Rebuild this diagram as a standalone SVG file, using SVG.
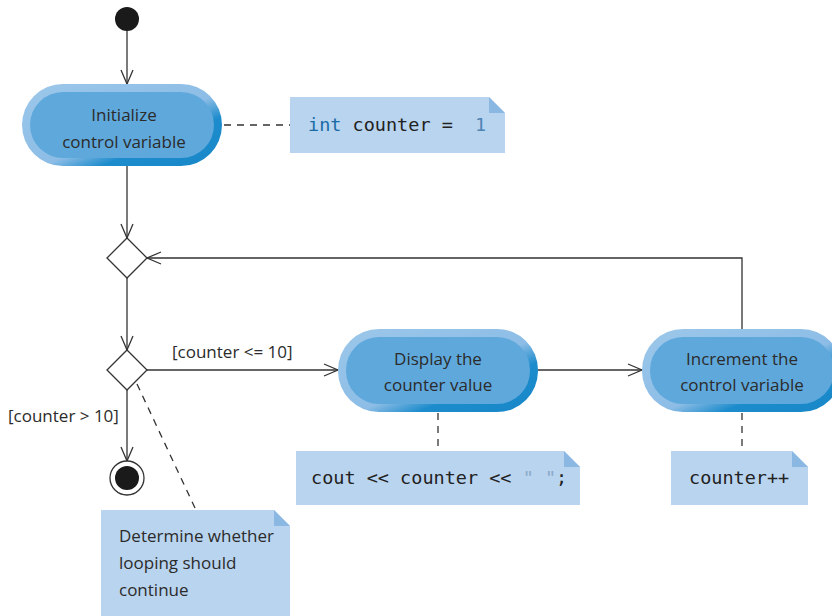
<svg xmlns="http://www.w3.org/2000/svg" width="832" height="616" viewBox="0 0 832 616">
<defs>
<linearGradient id="ring" x1="0" y1="0" x2="1" y2="1">
<stop offset="0" stop-color="#9cc7ea"/>
<stop offset="0.55" stop-color="#8dbde6"/>
<stop offset="0.7" stop-color="#1d8ccc"/>
<stop offset="1" stop-color="#1787c9"/>
</linearGradient>
<marker id="open" viewBox="0 0 16 14" refX="15" refY="7" markerWidth="16" markerHeight="14" markerUnits="userSpaceOnUse" orient="auto">
<path d="M1,1 L15,7 L1,13" fill="none" stroke="#333" stroke-width="1.3"/>
</marker>
</defs>
<style>
.ring{fill:url(#ring)}
.inner{fill:#5fa8dc}
.lbl{font-family:"Open Sans","Noto Sans",sans-serif;font-size:17px;fill:#2b2b2b;text-anchor:middle}
.g{font-family:"Open Sans","Noto Sans",sans-serif;font-size:17px;fill:#2b2b2b}
.code{font-family:"DejaVu Sans Mono","Liberation Mono",monospace;font-size:18.5px;fill:#222}
.note{fill:#b9d4ee}
.fold{fill:#8ab8e2}
.edge{fill:none;stroke:#333;stroke-width:1.3}
.dash{fill:none;stroke:#333;stroke-width:1.3;stroke-dasharray:7,6}
</style>
<rect width="832" height="616" fill="#fff"/>
<g id="connectors">
<line class="edge" x1="127" y1="31" x2="127" y2="84" marker-end="url(#open)"/>
<line class="edge" x1="127" y1="166" x2="127" y2="238" marker-end="url(#open)"/>
<line class="edge" x1="127" y1="278" x2="127" y2="350" marker-end="url(#open)"/>
<line class="edge" x1="127" y1="390" x2="127" y2="461" marker-end="url(#open)"/>
<line class="edge" x1="147" y1="370" x2="338" y2="370" marker-end="url(#open)"/>
<line class="edge" x1="538" y1="370" x2="642" y2="370" marker-end="url(#open)"/>
<polyline class="edge" points="742,330 742,258 147,258" marker-end="url(#open)"/>
<line class="dash" x1="224" y1="125" x2="290" y2="125"/>
<line class="dash" x1="438" y1="413" x2="438" y2="451"/>
<line class="dash" x1="742" y1="413" x2="742" y2="451"/>
<line class="dash" x1="137" y1="384" x2="195" y2="508"/>
<text class="g" x="172" y="358">[counter &lt;= 10]</text>
<text class="g" x="8" y="422">[counter &gt; 10]</text>
</g>
<g id="initial"><circle cx="127" cy="19" r="12" fill="#1a1a1a"/></g>
<g id="init">
<rect class="ring" x="22" y="84" width="200" height="82" rx="41"/>
<rect class="inner" x="30" y="92" width="184" height="66" rx="33"/>
<text class="lbl" x="124" y="121">Initialize</text>
<text class="lbl" x="124" y="148">control variable</text>
</g>
<g id="note-init">
<path class="note" d="M290,97 H489 L505,113 V153 H290 Z"/>
<path class="fold" d="M489,97 L505,113 H489 Z"/>
<text class="code" x="308" y="131" xml:space="preserve"><tspan fill="#1a6aa6">int</tspan> counter =  <tspan fill="#4d84b4">1</tspan></text>
</g>
<g id="merge"><path d="M127,238 L147,258 L127,278 L107,258 Z" fill="#fff" stroke="#333" stroke-width="1.3"/></g>
<g id="decision"><path d="M127,350 L147,370 L127,390 L107,370 Z" fill="#fff" stroke="#333" stroke-width="1.3"/></g>
<g id="final">
<circle cx="127" cy="478" r="17" fill="#fff" stroke="#333" stroke-width="1.3"/>
<circle cx="127" cy="478" r="12" fill="#1a1a1a"/>
</g>
<g id="display">
<rect class="ring" x="338" y="329" width="200" height="83" rx="41"/>
<rect class="inner" x="346" y="337" width="184" height="67" rx="33"/>
<text class="lbl" x="438" y="365">Display the</text>
<text class="lbl" x="438" y="391">counter value</text>
</g>
<g id="increment">
<rect class="ring" x="642" y="329" width="200" height="83" rx="41"/>
<rect class="inner" x="650" y="337" width="184" height="67" rx="33"/>
<text class="lbl" x="742" y="365">Increment the</text>
<text class="lbl" x="742" y="391">control variable</text>
</g>
<g id="note-cout">
<path class="note" d="M296,451 H564 L580,467 V505 H296 Z"/>
<path class="fold" d="M564,451 L580,467 H564 Z"/>
<text class="code" x="311" y="484" xml:space="preserve">cout &lt;&lt; counter &lt;&lt; <tspan fill="#8aa9c8">" "</tspan>;</text>
</g>
<g id="note-inc">
<path class="note" d="M671,451 H792 L808,467 V505 H671 Z"/>
<path class="fold" d="M792,451 L808,467 H792 Z"/>
<text class="code" x="689" y="484">counter++</text>
</g>
<g id="note-decision">
<path class="note" d="M101,510 H274 L290,526 V616 H101 Z"/>
<path class="fold" d="M274,510 L290,526 H274 Z"/>
<text class="g" x="119" y="542">Determine whether</text>
<text class="g" x="119" y="569">looping should</text>
<text class="g" x="119" y="596">continue</text>
</g>
</svg>
